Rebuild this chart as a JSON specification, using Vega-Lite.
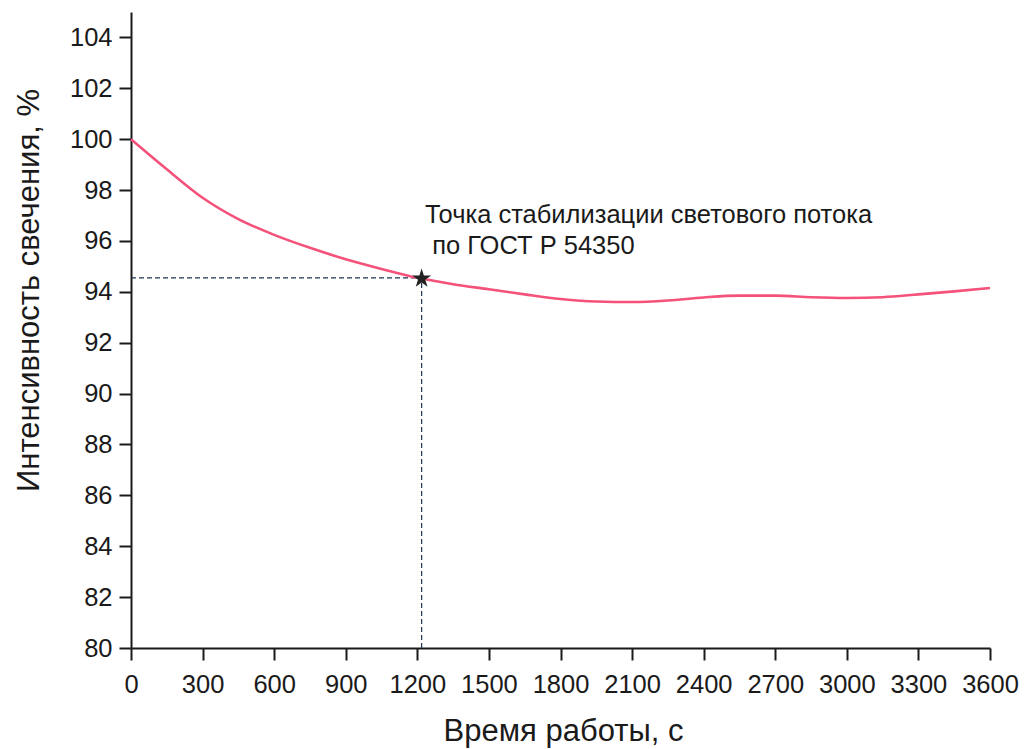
{
  "$schema": "https://vega.github.io/schema/vega-lite/v6.json",
  "width": 859,
  "height": 636,
  "autosize": {"type": "none"},
  "padding": {"left": 131, "top": 12, "right": 34, "bottom": 101},
  "background": "white",
  "config": {
    "view": {"stroke": null},
    "font": "Liberation Sans",
    "axis": {
      "domainColor": "#1a1a1a",
      "domainWidth": 2,
      "tickColor": "#1a1a1a",
      "tickWidth": 2,
      "labelColor": "#1a1a1a",
      "labelFont": "Liberation Sans",
      "labelFontSize": 25.5,
      "titleFont": "Liberation Sans",
      "titleFontSize": 31,
      "titleFontWeight": "normal",
      "titleColor": "#1a1a1a",
      "grid": false
    }
  },
  "datasets": {
    "curve": [
      {"t": 0, "v": 100.0},
      {"t": 150, "v": 98.82},
      {"t": 300, "v": 97.7},
      {"t": 450, "v": 96.86},
      {"t": 600, "v": 96.24},
      {"t": 750, "v": 95.73},
      {"t": 900, "v": 95.28},
      {"t": 1050, "v": 94.9},
      {"t": 1200, "v": 94.55},
      {"t": 1350, "v": 94.3},
      {"t": 1500, "v": 94.1},
      {"t": 1650, "v": 93.9},
      {"t": 1800, "v": 93.72},
      {"t": 1950, "v": 93.62},
      {"t": 2100, "v": 93.6},
      {"t": 2250, "v": 93.66},
      {"t": 2400, "v": 93.78},
      {"t": 2550, "v": 93.85},
      {"t": 2700, "v": 93.85},
      {"t": 2850, "v": 93.79},
      {"t": 3000, "v": 93.76},
      {"t": 3150, "v": 93.79},
      {"t": 3300, "v": 93.9},
      {"t": 3450, "v": 94.02},
      {"t": 3600, "v": 94.15}
    ],
    "guides": [
      {"x1": 0, "x2": 1218, "y1": 94.55, "y2": 94.55},
      {"x1": 1218, "x2": 1218, "y1": 80, "y2": 94.55}
    ],
    "star": [{"t": 1218, "v": 94.52}],
    "notes": [
      {"t": 1232, "v": 96.69, "label": "Точка стабилизации светового потока"},
      {"t": 1262, "v": 95.47, "label": "по ГОСТ Р 54350"}
    ]
  },
  "layer": [
    {
      "data": {"name": "guides"},
      "mark": {"type": "rule", "color": "#1d3550", "strokeWidth": 1.2, "strokeDash": [5, 3]},
      "encoding": {
        "x": {
          "field": "x1", "type": "quantitative",
          "scale": {"domain": [0, 3600], "nice": false, "zero": false},
          "axis": {
            "title": "Время работы, с",
            "values": [0,150,300,450,600,750,900,1050,1200,1350,1500,1650,1800,1950,2100,2250,2400,2550,2700,2850,3000,3150,3300,3450,3600],
            "labelExpr": "datum.value % 300 === 0 ? datum.label : ''",
            "format": "d",
            "tickSize": {"condition": {"test": "datum.value % 300 === 0", "value": 12}, "value": 7},
            "labelPadding": 12,
            "labelOverlap": false,
            "labelFlush": false,
            "titleX": 432,
            "titleY": 99,
            "titleBaseline": "bottom"
          }
        },
        "x2": {"field": "x2"},
        "y": {
          "field": "y1", "type": "quantitative",
          "scale": {"domain": [80, 105], "nice": false, "zero": false},
          "axis": {
            "title": "Интенсивность свечения, %",
            "values": [80,81,82,83,84,85,86,87,88,89,90,91,92,93,94,95,96,97,98,99,100,101,102,103,104,105],
            "labelExpr": "datum.value % 2 === 0 && datum.value < 105 ? datum.label : ''",
            "tickSize": {"condition": {"test": "datum.value % 2 === 0 && datum.value < 105", "value": 12}, "value": 6},
            "labelPadding": 7,
            "labelOverlap": false,
            "labelFlush": false,
            "titleX": -102,
            "titleY": 278,
            "titleAngle": -90,
            "titleAlign": "center",
            "titleBaseline": "middle"
          }
        },
        "y2": {"field": "y2"}
      }
    },
    {
      "data": {"name": "curve"},
      "mark": {"type": "line", "color": "#f4527a", "strokeWidth": 2.6, "interpolate": "monotone"},
      "encoding": {
        "x": {"field": "t", "type": "quantitative"},
        "y": {"field": "v", "type": "quantitative"}
      }
    },
    {
      "data": {"name": "star"},
      "mark": {
        "type": "point",
        "shape": "M0,-1L0.2245,-0.309L0.951,-0.309L0.363,0.118L0.588,0.809L0,0.382L-0.588,0.809L-0.363,0.118L-0.951,-0.309L-0.2245,-0.309Z",
        "filled": true,
        "color": "#222222",
        "size": 400,
        "opacity": 1
      },
      "encoding": {
        "x": {"field": "t", "type": "quantitative"},
        "y": {"field": "v", "type": "quantitative"}
      }
    },
    {
      "data": {"name": "notes"},
      "mark": {"type": "text", "align": "left", "baseline": "alphabetic", "fontSize": 25.5, "font": "Liberation Sans", "color": "#1a1a1a"},
      "encoding": {
        "x": {"field": "t", "type": "quantitative"},
        "y": {"field": "v", "type": "quantitative"},
        "text": {"field": "label"}
      }
    }
  ]
}
